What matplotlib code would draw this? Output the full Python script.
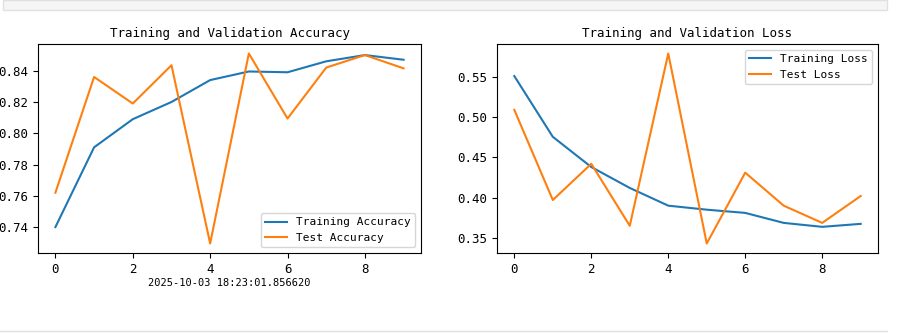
import matplotlib
matplotlib.use("Agg")
import matplotlib.pyplot as plt
from matplotlib.patches import Rectangle
from matplotlib.lines import Line2D

# Per-epoch metrics
epochs = list(range(10))
train_acc = [0.740, 0.791, 0.809, 0.820, 0.834, 0.8395, 0.839, 0.846, 0.850, 0.847]
test_acc = [0.762, 0.836, 0.819, 0.8435, 0.7295, 0.851, 0.8094, 0.842, 0.850, 0.8415]
train_loss = [0.551, 0.4755, 0.438, 0.412, 0.390, 0.385, 0.381, 0.3686, 0.3637, 0.3674]
test_loss = [0.509, 0.397, 0.442, 0.365, 0.579, 0.343, 0.431, 0.390, 0.3686, 0.402]
run_stamp = "2025-10-03 18:23:01.856620"

plt.rcParams["font.family"] = ["DejaVu Sans Mono"]

W, H = 905, 333
fig = plt.figure(figsize=(W / 100, H / 100), dpi=100)


def frac_box(x0, y0, x1, y1):
    return [x0 / W, 1 - y1 / H, (x1 - x0) / W, (y1 - y0) / H]


# notebook cell frame
fig.add_artist(Rectangle((3 / W, 1 - 10 / H), (887 - 3) / W, 10 / H,
                         transform=fig.transFigure, facecolor="#f5f5f5",
                         edgecolor="#e0e0e0", linewidth=1))
fig.add_artist(Line2D([0, 887 / W], [1 - 331 / H, 1 - 331 / H],
                      transform=fig.transFigure, color="#e0e0e0", linewidth=1))

ax1 = fig.add_axes(frac_box(38, 44, 421, 253))
ax2 = fig.add_axes(frac_box(497, 44, 878, 253))

ax1.plot(epochs, train_acc, label="Training Accuracy")
ax1.plot(epochs, test_acc, label="Test Accuracy")
ax1.set_title("Training and Validation Accuracy", fontsize=9, pad=5)
ax1.legend(loc="lower right", fontsize=8)
ax1.set_xlabel(run_stamp, fontsize=7.5, labelpad=2)

ax2.plot(epochs, train_loss, label="Training Loss")
ax2.plot(epochs, test_loss, label="Test Loss")
ax2.set_title("Training and Validation Loss", fontsize=9, pad=5)
ax2.legend(loc="upper right", fontsize=8)

for ax in (ax1, ax2):
    ax.tick_params(labelsize=9)

fig.savefig("out.png", dpi=100)
